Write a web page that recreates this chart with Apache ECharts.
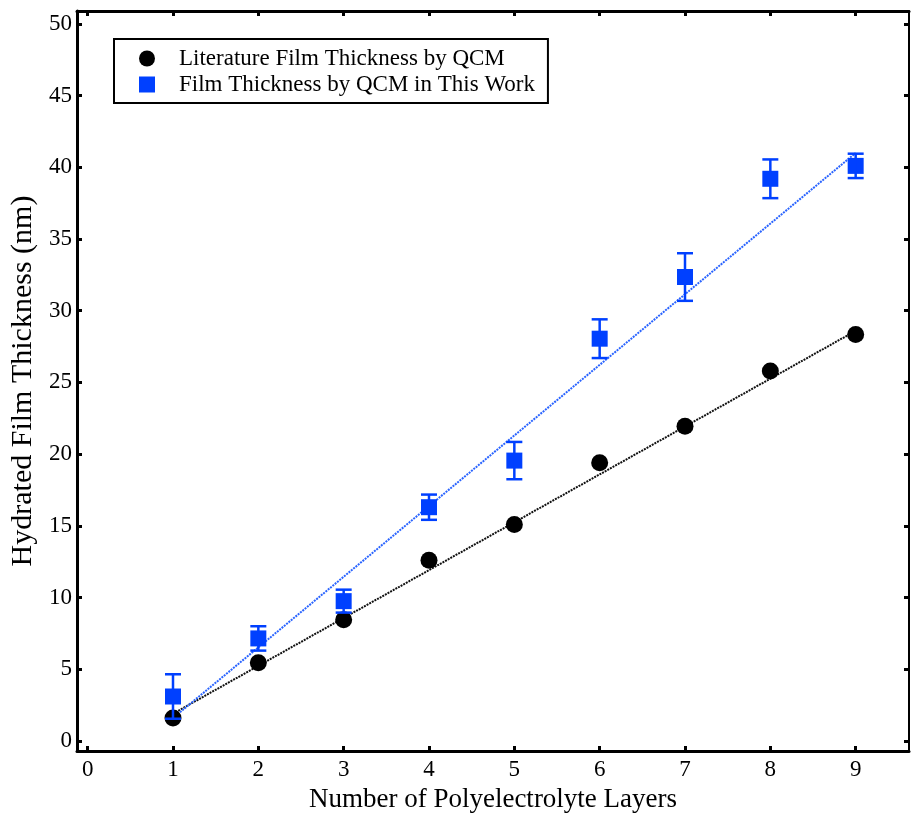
<!DOCTYPE html>
<html>
<head>
<meta charset="utf-8">
<script src="https://cdn.jsdelivr.net/npm/echarts@6/dist/echarts.min.js"></script>
<style>html,body{margin:0;padding:0;background:#fff;}#chart{width:911px;height:818px;}</style>
</head>
<body>
<div id="chart"></div>
<script>
const layers = [1, 2, 3, 4, 5, 6, 7, 8, 9];
const literatureThickness = [1.6, 5.45, 8.45, 12.6, 15.1, 19.4, 21.95, 25.8, 28.35];
const thisWorkThickness = [3.1, 7.15, 9.75, 16.3, 19.55, 28.05, 32.35, 39.2, 40.1];
const thisWorkError = [1.55, 0.85, 0.8, 0.88, 1.3, 1.35, 1.66, 1.35, 0.85];
const literatureFitX = [1, 9];
const literatureFitY = [1.9, 28.6];
const thisWorkFitX = [1, 9];
const thisWorkFitY = [1.6, 41.0];
const xTicks = [0, 1, 2, 3, 4, 5, 6, 7, 8, 9];
const yTicks = [0, 5, 10, 15, 20, 25, 30, 35, 40, 45, 50];
const seriesNames = ['Literature Film Thickness by QCM', 'Film Thickness by QCM in This Work'];
const xTitle = 'Number of Polyelectrolyte Layers';
const yTitle = 'Hydrated Film Thickness (nm)';

const FONT = '"Liberation Serif", "Times New Roman", serif';
const BLUE = '#0040ff';
const BLUE_LINE = '#2a64ff';

const chart = echarts.init(document.getElementById('chart'));

const zip = (a, b) => a.map((v, i) => [v, b[i]]);

const tickStyle = { inside: true, length: 5, lineStyle: { color: '#000', width: 3 } };
const X_MIN = -0.125, X_MAX = 9.625, Y_MIN = -0.7, Y_MAX = 50.9;

const option = {
  backgroundColor: '#fff',
  animation: false,
  grid: { left: 77, right: 2, top: 11, bottom: 63 },
  legend: {
    orient: 'vertical',
    left: 114,
    top: 39,
    padding: [8, 13, 7, 25],
    borderColor: '#000',
    borderWidth: 2,
    itemWidth: 16,
    itemHeight: 16,
    itemGap: 3,
    selectedMode: false,
    textStyle: { fontFamily: FONT, fontSize: 23, color: '#000', padding: [0, 0, 0, 19] },
    data: [
      { name: seriesNames[0], icon: 'circle', itemStyle: { color: '#000', opacity: 1 } },
      { name: seriesNames[1], icon: 'rect', itemStyle: { color: BLUE, opacity: 1 } }
    ]
  },
  xAxis: [
    {
      type: 'value', min: X_MIN, max: X_MAX, position: 'bottom',
      name: xTitle, nameLocation: 'middle', nameGap: 35,
      nameTextStyle: { fontFamily: FONT, fontSize: 27, color: '#000' },
      axisLine: { onZero: false, lineStyle: { color: '#000', width: 3 } },
      axisTick: Object.assign({ customValues: xTicks }, tickStyle),
      axisLabel: { customValues: xTicks, margin: 7, fontFamily: FONT, fontSize: 23, color: '#000' },
      splitLine: { show: false }
    },
    {
      type: 'value', min: X_MIN, max: X_MAX, position: 'top',
      axisLine: { onZero: false, lineStyle: { color: '#000', width: 3 } },
      axisTick: Object.assign({ customValues: xTicks }, tickStyle),
      axisLabel: { show: false },
      splitLine: { show: false }
    }
  ],
  yAxis: [
    {
      type: 'value', min: Y_MIN, max: Y_MAX, position: 'left',
      name: yTitle, nameLocation: 'middle', nameGap: 38, nameRotate: 90,
      nameTextStyle: { fontFamily: FONT, fontSize: 30, color: '#000' },
      axisLine: { show: true, onZero: false, lineStyle: { color: '#000', width: 3 } },
      axisTick: Object.assign({ customValues: yTicks }, tickStyle),
      axisLabel: { customValues: yTicks, margin: 5, fontFamily: FONT, fontSize: 23, color: '#000' },
      splitLine: { show: false }
    },
    {
      type: 'value', min: Y_MIN, max: Y_MAX, position: 'right',
      axisLine: { show: true, onZero: false, lineStyle: { color: '#000', width: 2 } },
      axisTick: Object.assign({ customValues: yTicks }, tickStyle),
      axisLabel: { show: false },
      splitLine: { show: false }
    }
  ],
  series: [
    {
      name: 'litFit', type: 'line', data: zip(literatureFitX, literatureFitY),
      symbol: 'none', silent: true, z: 2,
      lineStyle: { color: '#111', width: 2, type: [2, 1] }
    },
    {
      name: 'workFit', type: 'line', data: zip(thisWorkFitX, thisWorkFitY),
      symbol: 'none', silent: true, z: 2,
      lineStyle: { color: BLUE_LINE, width: 2, type: [2, 1] }
    },
    {
      name: seriesNames[0], type: 'scatter', data: zip(layers, literatureThickness),
      symbol: 'circle', symbolSize: 17, z: 3,
      itemStyle: { color: '#000', opacity: 1 }
    },
    {
      name: seriesNames[1], type: 'scatter', data: zip(layers, thisWorkThickness),
      symbol: 'rect', symbolSize: 16, z: 4,
      itemStyle: { color: BLUE, opacity: 1 }
    },
    {
      name: 'errorBars', type: 'custom', z: 5, silent: true,
      data: layers.map((x, i) => [x, thisWorkThickness[i] - thisWorkError[i], thisWorkThickness[i] + thisWorkError[i]]),
      renderItem: function (params, api) {
        const x = api.value(0);
        const pLo = api.coord([x, api.value(1)]);
        const pHi = api.coord([x, api.value(2)]);
        const hw = 8;
        const st = { stroke: BLUE, lineWidth: 2.5 };
        return {
          type: 'group',
          children: [
            { type: 'line', shape: { x1: pHi[0], y1: pHi[1], x2: pLo[0], y2: pLo[1] }, style: st },
            { type: 'line', shape: { x1: pHi[0] - hw, y1: pHi[1], x2: pHi[0] + hw, y2: pHi[1] }, style: st },
            { type: 'line', shape: { x1: pLo[0] - hw, y1: pLo[1], x2: pLo[0] + hw, y2: pLo[1] }, style: st }
          ]
        };
      }
    }
  ]
};
chart.setOption(option);
</script>
</body>
</html>
